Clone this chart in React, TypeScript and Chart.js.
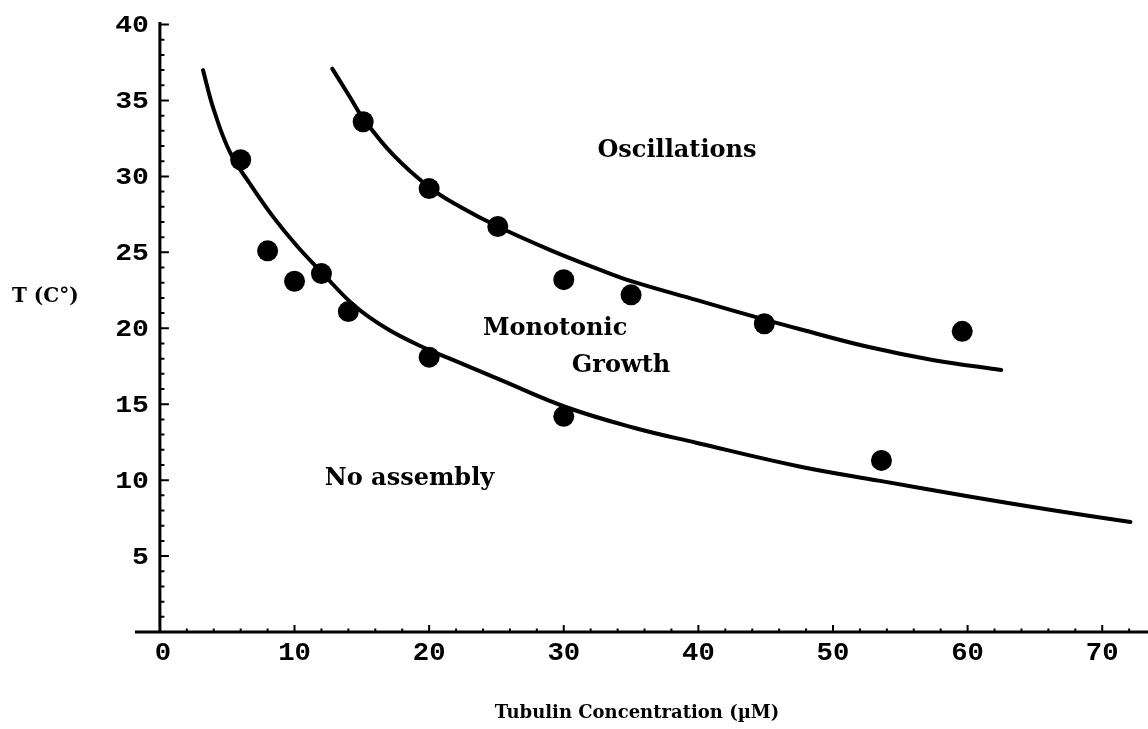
import React, { useEffect, useRef } from 'react';
import { Chart, registerables } from 'chart.js';

Chart.register(...registerables);

// Measured onset temperatures: assembly threshold (lower) and oscillation threshold (upper)
const assemblyConc = [6, 8, 10, 12, 14, 20, 30, 53.6];
const assemblyTemp = [31.1, 25.1, 23.1, 23.6, 21.1, 18.1, 14.2, 11.3];
const oscillationConc = [15.1, 20, 25.1, 30, 35, 44.9, 59.6];
const oscillationTemp = [33.6, 29.2, 26.7, 23.2, 22.2, 20.3, 19.8];

// Fitted boundary curves
const lowerCurveConc = [3.2, 4.0, 5.2, 6.7, 8.4, 10.2, 12.0, 14.5, 17.0, 19.8, 21.5, 25.3, 30.2, 35.2, 39.9, 47.5, 53.5, 59.9, 66.1, 72.1];
const lowerCurveTemp = [37.0, 34.4, 31.6, 29.5, 27.35, 25.4, 23.7, 21.45, 19.9, 18.65, 18.02, 16.6, 14.8, 13.45, 12.45, 10.9, 9.95, 8.95, 8.05, 7.25];
const upperCurveConc = [12.8, 14.1, 15.0, 17.3, 20.0, 22.3, 25.1, 29.0, 32.7, 35.2, 39.9, 45.0, 47.5, 52.5, 57.5, 62.5];
const upperCurveTemp = [37.1, 35.25, 33.95, 31.45, 29.3, 28.0, 26.7, 25.15, 23.85, 23.05, 21.85, 20.55, 19.95, 18.8, 17.9, 17.25];

// Axis ticks
const xTickValues = [0, 10, 20, 30, 40, 50, 60, 70];
const xMinorStep = 2;
const yTickValues = [5, 10, 15, 20, 25, 30, 35, 40];
const yMinorStep = 1;

const xAxisTitle = 'Tubulin Concentration (\u00b5M)';
const yAxisTitle = 'T (C\u00b0)';

const regionNames = ['Oscillations', 'Monotonic', 'Growth', 'No assembly'];

const toPoints = (xs: number[], ys: number[]) => xs.map((x, i) => ({ x, y: ys[i] }));

const axesPlugin = {
  id: 'phaseAxes',
  beforeDatasetsDraw(chart: any) {
    const { ctx, scales } = chart;
    const xs = scales.x;
    const ys = scales.y;
    const x0 = xs.getPixelForValue(0);
    const y0 = ys.getPixelForValue(0);
    ctx.save();
    ctx.strokeStyle = '#000';
    ctx.lineCap = 'butt';
    // axis lines
    ctx.lineWidth = 3;
    ctx.beginPath();
    ctx.moveTo(xs.left, y0);
    ctx.lineTo(xs.right, y0);
    ctx.moveTo(x0, y0);
    ctx.lineTo(x0, ys.top + 2);
    ctx.stroke();
    // ticks, pointing into the plot
    ctx.lineWidth = 2;
    ctx.beginPath();
    for (let v = xMinorStep; v <= 72; v += xMinorStep) {
      const px = xs.getPixelForValue(v);
      const len = v % 10 === 0 ? 7 : 3.5;
      ctx.moveTo(px, y0);
      ctx.lineTo(px, y0 - len);
    }
    for (let v = yMinorStep; v <= 40; v += yMinorStep) {
      const py = ys.getPixelForValue(v);
      const len = v % 5 === 0 ? 9 : 4.5;
      ctx.moveTo(x0, py);
      ctx.lineTo(x0 + len, py);
    }
    ctx.stroke();
    ctx.restore();
  },
  afterDraw(chart: any) {
    const { ctx, scales } = chart;
    const xs = scales.x;
    const ys = scales.y;
    const x0 = xs.getPixelForValue(0);
    const y0 = ys.getPixelForValue(0);
    ctx.save();
    ctx.fillStyle = '#000';

    // y tick labels
    ctx.font = 'bold 23px "Liberation Mono", monospace';
    ctx.textAlign = 'right';
    ctx.textBaseline = 'alphabetic';
    yTickValues.forEach((v) => {
      const py = ys.getPixelForValue(v);
      ctx.save();
      ctx.translate(x0 - 11, py + 7.5);
      ctx.scale(1.22, 1);
      ctx.fillText(String(v), 0, 0);
      ctx.restore();
    });

    // x tick labels
    ctx.font = 'bold 26px "Liberation Mono", monospace';
    ctx.textAlign = 'center';
    xTickValues.forEach((v) => {
      const px = xs.getPixelForValue(v) + (v === 0 ? 3 : 0);
      ctx.save();
      ctx.translate(px, y0 + 28);
      ctx.scale(1.05, 1);
      ctx.fillText(String(v), 0, 0);
      ctx.restore();
    });

    // axis titles
    ctx.font = 'bold 18px "DejaVu Serif", serif';
    ctx.textAlign = 'center';
    ctx.fillText(xAxisTitle, 637, 718);
    ctx.font = 'bold 20px "DejaVu Serif", serif';
    ctx.textAlign = 'left';
    ctx.fillText(yAxisTitle, 12, 302);

    // region names, anchored in data coordinates (left edge, baseline)
    const anchors = [
      [32.5, 31.3],
      [24.0, 19.55],
      [30.6, 17.1],
      [12.25, 9.7],
    ];
    ctx.font = 'bold 24px "DejaVu Serif", serif';
    ctx.textAlign = 'left';
    regionNames.forEach((name, i) => {
      ctx.fillText(name, xs.getPixelForValue(anchors[i][0]), ys.getPixelForValue(anchors[i][1]));
    });
    ctx.restore();
  },
};

export default function App() {
  const canvasRef = useRef<HTMLCanvasElement | null>(null);

  useEffect(() => {
    const canvas = canvasRef.current;
    if (!canvas) return;
    const curveStyle = {
      type: 'line' as const,
      showLine: true,
      borderColor: '#000',
      borderWidth: 4,
      borderCapStyle: 'round' as const,
      pointRadius: 0,
      fill: false,
      tension: 0.4,
    };
    const dotStyle = {
      type: 'scatter' as const,
      showLine: false,
      pointRadius: 10.5,
      pointBackgroundColor: '#000',
      pointBorderWidth: 0,
      borderColor: '#000',
    };
    const chart = new Chart(canvas, {
      type: 'scatter',
      data: {
        datasets: [
          { ...curveStyle, label: 'assembly boundary', data: toPoints(lowerCurveConc, lowerCurveTemp) },
          { ...curveStyle, label: 'oscillation boundary', data: toPoints(upperCurveConc, upperCurveTemp) },
          { ...dotStyle, label: 'assembly onset', data: toPoints(assemblyConc, assemblyTemp) },
          { ...dotStyle, label: 'oscillation onset', data: toPoints(oscillationConc, oscillationTemp) },
        ] as any,
      },
      options: {
        responsive: false,
        devicePixelRatio: 1,
        animation: false,
        layout: { autoPadding: false, padding: { left: 135, right: 0, top: 20, bottom: 97 } },
        plugins: { legend: { display: false }, tooltip: { enabled: false } },
        scales: {
          x: { type: 'linear', min: -1.85, max: 73.4, display: false },
          y: { type: 'linear', min: 0, max: 40.3, display: false },
        },
      },
      plugins: [axesPlugin],
    });
    return () => chart.destroy();
  }, []);

  return (
    <div style={{ position: 'absolute', left: 0, top: 0, width: 1148, height: 729, background: '#fff' }}>
      <canvas ref={canvasRef} width={1148} height={729} />
    </div>
  );
}
